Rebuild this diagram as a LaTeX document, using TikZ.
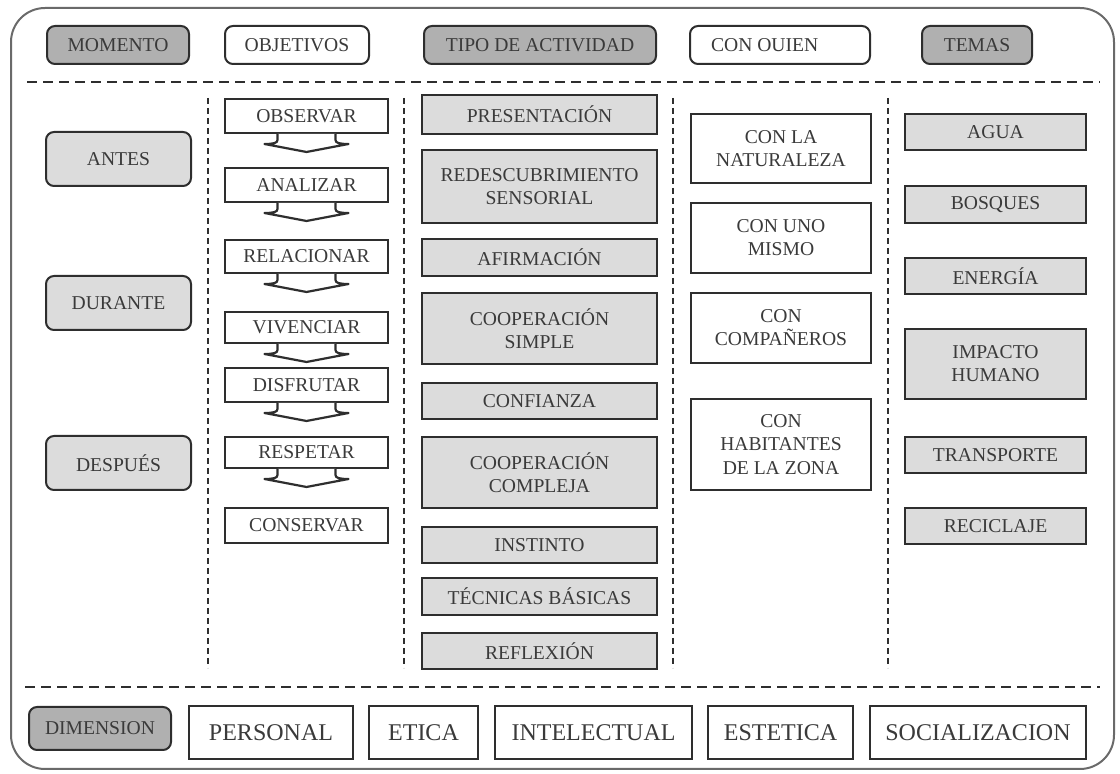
\documentclass[tikz,border=0pt]{standalone}
\usepackage{fontspec}
\setmainfont{Liberation Serif}
\usetikzlibrary{calc}
\definecolor{hdrg}{HTML}{B0B0B0}
\definecolor{lg}{HTML}{DCDCDC}
\definecolor{textc}{HTML}{3A3A3A}
\definecolor{linec}{HTML}{2E2E2E}
\definecolor{borderc}{HTML}{6A6A6A}
\newcommand\mybox[7]{\node[#6, minimum width={(#4-#2)*0.5pt}, minimum height={(#5-#3)*0.5pt}] (#1) at ({(#2+#4)/2},{(#3+#5)/2}) {#7};}
\newcommand\objarrow[1]{\draw[arw] ($(#1.south)+(-29,0)$) -- ($(#1.south)+(-29,6)$) .. controls ($(#1.south)+(-29,9)$) and ($(#1.south)+(-33,10)$) .. ($(#1.south)+(-42,10)$) -- ($(#1.south)+(0,18)$) -- ($(#1.south)+(42,10)$) .. controls ($(#1.south)+(33,10)$) and ($(#1.south)+(29,9)$) .. ($(#1.south)+(29,6)$) -- ($(#1.south)+(29,0)$);}
\begin{document}
\begin{tikzpicture}[x=0.5pt,y=-0.5pt,
  txt/.style={font=\fontsize{9.8}{11.6}\selectfont, text=textc, align=center},
  base/.style={txt, draw=linec, line width=1pt, inner sep=0pt},
  gr/.style={base, fill=lg},
  wh/.style={base, fill=white},
  rhg/.style={base, fill=hdrg, rounded corners=4pt},
  rwh/.style={base, fill=white, rounded corners=4pt},
  rlg/.style={base, fill=lg, rounded corners=4pt},
  big/.style={wh, font=\fontsize{12}{14}\selectfont},
  hdash/.style={draw=linec, line width=1pt, dash pattern=on 5pt off 3pt},
  vdash/.style={draw=linec, line width=1pt, dash pattern=on 3pt off 2pt},
  arw/.style={draw=linec, line width=1.1pt, line join=round, fill=white},
  outer/.style={draw=borderc, line width=1pt, rounded corners=17pt}
]
\useasboundingbox (0,0) rectangle (1120,774);
\draw[outer] (11,8) rectangle (1114,769);

% header
\mybox{mom}{47}{26}{189}{64}{rhg}{MOMENTO}
\mybox{obj}{225}{26}{369}{64}{rwh}{OBJETIVOS}
\mybox{tipo}{424}{26}{656}{64}{rhg}{TIPO DE ACTIVIDAD}
\mybox{quien}{690}{26}{870}{64}{rwh}{}
\node[txt, anchor=west] (quient) at ($(quien.west)+(15,0)$) {CON OUIEN};
\mybox{temas}{922}{26}{1032}{64}{rhg}{TEMAS}

% dashed separators
\coordinate (h1a) at (27,82); \coordinate (h1b) at (1100,82);
\coordinate (h2a) at (25,687); \coordinate (h2b) at (1100,687);
\draw[hdash] (h1a) -- (h1b);
\draw[hdash] (h2a) -- (h2b);
\foreach \xx/\nm in {208/va,404/vb,673/vc,888/vd}{
  \coordinate (\nm1) at (\xx,98); \coordinate (\nm2) at (\xx,668);
  \draw[vdash] (\nm1) -- (\nm2);
}

% momento column
\mybox{antes}{46}{132}{191}{186}{rlg}{ANTES}
\mybox{durante}{46}{276}{191}{330}{rlg}{DURANTE}
\mybox{despues}{46}{436}{191}{490}{rlg}{DESPUÉS}

% objetivos column
\mybox{o1}{225}{99}{388}{133}{wh}{OBSERVAR}
\mybox{o2}{225}{168}{388}{202}{wh}{ANALIZAR}
\mybox{o3}{225}{240}{388}{273}{wh}{RELACIONAR}
\mybox{o4}{225}{312}{388}{343}{wh}{VIVENCIAR}
\mybox{o5}{225}{368}{388}{402}{wh}{DISFRUTAR}
\mybox{o6}{225}{437}{388}{468}{wh}{RESPETAR}
\mybox{o7}{225}{508}{388}{543}{wh}{CONSERVAR}
\foreach \n in {o1,o2,o3,o4,o5,o6}{\objarrow{\n}}

% tipo de actividad column
\mybox{a1}{422}{95}{657}{134}{gr}{PRESENTACIÓN}
\mybox{a2}{422}{150}{657}{223}{gr}{REDESCUBRIMIENTO\\SENSORIAL}
\mybox{a3}{422}{239}{657}{276}{gr}{AFIRMACIÓN}
\mybox{a4}{422}{293}{657}{364}{gr}{COOPERACIÓN\\SIMPLE}
\mybox{a5}{422}{383}{657}{419}{gr}{CONFIANZA}
\mybox{a6}{422}{437}{657}{508}{gr}{COOPERACIÓN\\COMPLEJA}
\mybox{a7}{422}{527}{657}{563}{gr}{INSTINTO}
\mybox{a8}{422}{578}{657}{615}{gr}{TÉCNICAS BÁSICAS}
\mybox{a9}{422}{633}{657}{669}{gr}{REFLEXIÓN}

% con quien column
\mybox{q1}{691}{114}{871}{183}{wh}{CON LA\\NATURALEZA}
\mybox{q2}{691}{203}{871}{273}{wh}{CON UNO\\MISMO}
\mybox{q3}{691}{293}{871}{363}{wh}{CON\\COMPAÑEROS}
\mybox{q4}{691}{399}{871}{490}{wh}{CON\\HABITANTES\\DE LA ZONA}

% temas column
\mybox{t1}{905}{114}{1086}{150}{gr}{AGUA}
\mybox{t2}{905}{186}{1086}{223}{gr}{BOSQUES}
\mybox{t3}{905}{258}{1086}{294}{gr}{ENERGÍA}
\mybox{t4}{905}{329}{1086}{399}{gr}{IMPACTO\\HUMANO}
\mybox{t5}{905}{437}{1086}{473}{gr}{TRANSPORTE}
\mybox{t6}{905}{508}{1086}{544}{gr}{RECICLAJE}

% dimension row
\mybox{dim}{29}{707}{171}{750}{rhg}{DIMENSION}
\mybox{d1}{189}{706}{353}{759}{big}{PERSONAL}
\mybox{d2}{369}{706}{478}{759}{big}{ETICA}
\mybox{d3}{495}{706}{692}{759}{big}{INTELECTUAL}
\mybox{d4}{708}{706}{853}{759}{big}{ESTETICA}
\mybox{d5}{870}{706}{1086}{759}{big}{SOCIALIZACION}
\end{tikzpicture}
\end{document}
